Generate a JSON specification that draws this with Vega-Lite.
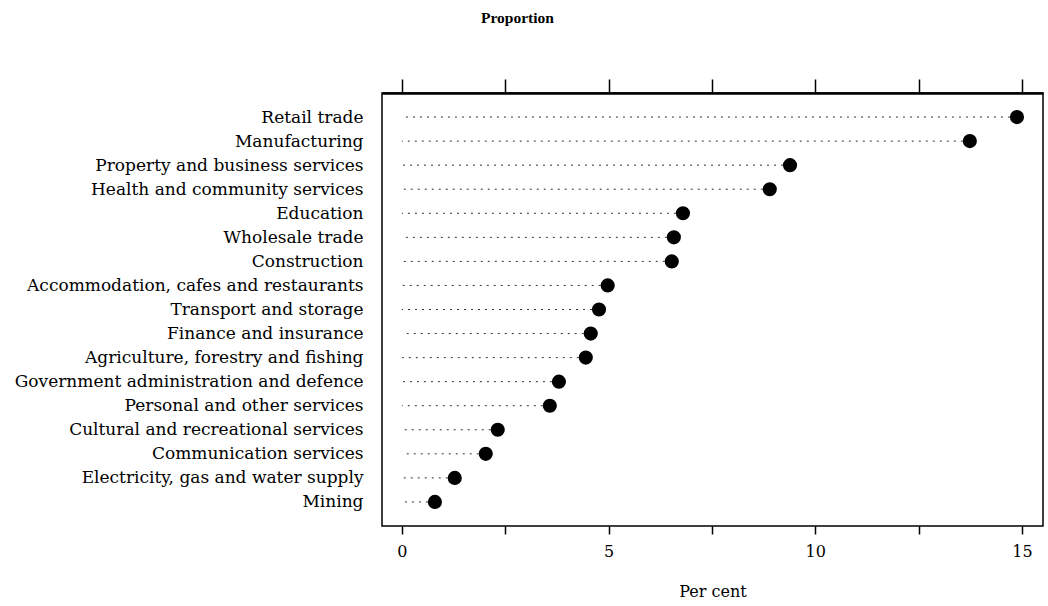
{
  "$schema": "https://vega.github.io/schema/vega-lite/v6.json",
  "width": 661,
  "height": 433,
  "autosize": "none",
  "padding": {"left": 382, "top": 93, "right": 5, "bottom": 80},
  "background": "white",
  "config": {
    "font": "DejaVu Serif",
    "view": {"stroke": "black", "strokeWidth": 1.5},
    "axis": {"labelFont": "DejaVu Serif", "titleFont": "DejaVu Serif", "labelColor": "black", "titleColor": "black", "grid": false}
  },
  "title": {"text": "Proportion", "fontSize": 15.5, "fontWeight": "bold", "font": "Liberation Serif", "anchor": "middle", "frame": "group", "dx": -195, "offset": 52, "color": "black"},
  "data": {
    "values": [
      {"industry": "Retail trade", "pct": 14.88},
      {"industry": "Manufacturing", "pct": 13.74},
      {"industry": "Property and business services", "pct": 9.39},
      {"industry": "Health and community services", "pct": 8.9},
      {"industry": "Education", "pct": 6.8},
      {"industry": "Wholesale trade", "pct": 6.58},
      {"industry": "Construction", "pct": 6.53},
      {"industry": "Accommodation, cafes and restaurants", "pct": 4.98},
      {"industry": "Transport and storage", "pct": 4.77},
      {"industry": "Finance and insurance", "pct": 4.57},
      {"industry": "Agriculture, forestry and fishing", "pct": 4.45},
      {"industry": "Government administration and defence", "pct": 3.8},
      {"industry": "Personal and other services", "pct": 3.58},
      {"industry": "Cultural and recreational services", "pct": 2.32},
      {"industry": "Communication services", "pct": 2.03},
      {"industry": "Electricity, gas and water supply", "pct": 1.28},
      {"industry": "Mining", "pct": 0.8}
    ]
  },
  "encoding": {
    "y": {
      "field": "industry", "type": "nominal", "sort": null,
      "scale": {"type": "point", "padding": 1.0},
      "axis": {"title": null, "ticks": false, "domain": false, "labelFontSize": 17, "labelPadding": 19, "labelLimit": 400}
    }
  },
  "layer": [
    {
      "mark": {"type": "rule", "strokeDash": [2, 5], "color": "#333", "strokeWidth": 1},
      "encoding": {
        "x": {
          "field": "pct", "type": "quantitative",
          "scale": {"domain": [-0.48, 15.51], "nice": false, "zero": false},
          "axis": {"orient": "top", "title": null, "labels": false, "values": [0, 2.5, 5, 7.5, 10, 12.5, 15], "tickSize": 14, "tickColor": "black", "tickWidth": 1.5, "domain": true, "domainColor": "black", "domainWidth": 2.5}
        },
        "x2": {"datum": 0}
      }
    },
    {
      "mark": {"type": "circle", "size": 200, "color": "black", "opacity": 1},
      "encoding": {
        "x": {
          "field": "pct", "type": "quantitative",
          "scale": {"domain": [-0.48, 15.51], "nice": false, "zero": false},
          "axis": {
            "orient": "bottom", "title": "Per cent", "titleFontSize": 16, "titleFontWeight": "normal", "titlePadding": 24,
            "values": [0, 2.5, 5, 7.5, 10, 12.5, 15],
            "labelExpr": "datum.value % 5 == 0 ? datum.label : ''",
            "labelFontSize": 16, "tickSize": 8, "tickColor": "black", "tickWidth": 1.5, "domain": false, "labelPadding": 9
          }
        }
      }
    }
  ],
  "resolve": {"axis": {"x": "independent"}}
}
